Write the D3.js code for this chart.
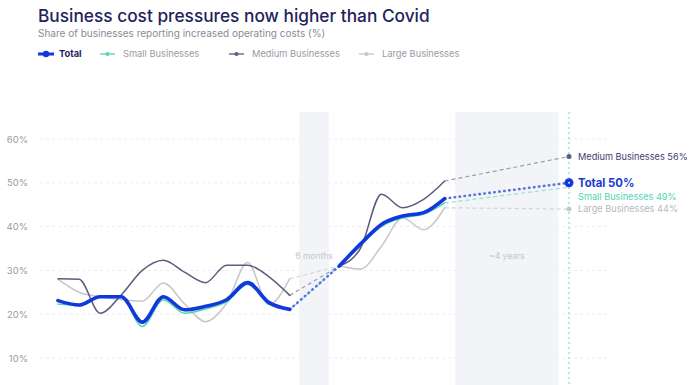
<!DOCTYPE html>
<html><head><meta charset="utf-8">
<script src="https://cdn.jsdelivr.net/npm/d3@7"></script>
<style>body{margin:0;background:#fff;font-family:Inter,"Noto Sans",sans-serif;}</style>
</head><body>
<svg id="c" width="696" height="385"></svg>
<script>
// ---- data ----
const seriesNames = ["Total","Small Businesses","Medium Businesses","Large Businesses"];
const period1 = [0,1,2,3,4,5,6,7,8,9,10,11];
const period2 = [13.35,14.35,15.35,16.35,17.35,18.35];
const projectionPeriod = 24.25;
const total1  = [23.1,22.1,24,24,18.2,24,21,21.8,23.3,27.2,22.7,21.1];
const small1  = [22.3,22,24,24,17.2,23.3,20.2,21.2,22.8,26.8,22.3,21];
const medium1 = [28.1,28,20.2,24.4,30,32.3,29.6,27.2,31.2,31.2,28.6,24.3];
const large1  = [28,25,24,23.3,23,27.1,22.4,18.3,22.5,31.8,22.2,28.1];
const total2  = [31,36,40.5,42.4,43.2,46.4];
const small2  = [31,35.7,40,42,42.8,45.4];
const medium2 = [31,35,47.4,44.3,46.2,50.4];
const large2  = [31,30.3,35.5,42,39.3,44.3];
const projected = [50,49,56,44];
const bands = [[11.45,12.85,"6 months"],[18.85,23.75,"~4 years"]];
const yTicks = [10,20,30,40,50,60];

const colors = ["#1237dc","#4fd6b2","#5c5c7c","#c6c6cc"];
const dashColors = ["#5a74dc","#8fe3cf","#9c9cb2","#d2d2d8"];
const widths = [3.6,1.5,1.5,1.5];
const seg1 = [total1,small1,medium1,large1];
const seg2 = [total2,small2,medium2,large2];

const svg = d3.select("#c");
const x = d3.scaleLinear().domain([0,24.25]).range([58,569]);
const y = d3.scaleLinear().domain([10,60]).range([358,139]);

// title
svg.append("text").attr("x",38).attr("y",22).attr("font-size",17.3).attr("font-weight",500)
  .attr("fill","#23235c").text("Business cost pressures now higher than Covid");
svg.append("text").attr("x",38).attr("y",37).attr("font-size",10)
  .attr("fill","#8a8a96").text("Share of businesses reporting increased operating costs (%)");

// legend
const legX = [38,100,229,359];
seriesNames.forEach((n,i)=>{
  const g = svg.append("g").attr("transform",`translate(${legX[i]},54)`);
  g.append("line").attr("x1",0).attr("x2",i===0?16:15).attr("y1",0).attr("y2",0)
    .attr("stroke",colors[i]).attr("stroke-width",i===0?3:1.3);
  g.append("circle").attr("cx",i===0?8:7.5).attr("cy",0).attr("r",i===0?3.2:2).attr("fill",colors[i]);
  g.append("text").attr("x",i===0?21:23).attr("y",3.3).attr("font-size",9.3)
    .attr("font-weight",i===0?700:400)
    .attr("fill",i===0?"#23235c":"#9a9aa4").text(n);
});

// bands
bands.forEach(b=>{
  svg.append("rect").attr("x",x(b[0])).attr("y",112).attr("width",x(b[1])-x(b[0]))
    .attr("height",273).attr("fill","#f2f4f8");
});

// grid + y labels
yTicks.forEach(t=>{
  svg.append("line").attr("x1",40).attr("x2",610).attr("y1",y(t)).attr("y2",y(t))
    .attr("stroke","#eceef2").attr("stroke-dasharray","3,3");
  svg.append("text").attr("x",28).attr("y",y(t)+3.5).attr("text-anchor","end")
    .attr("font-size",9.5).attr("fill","#9a9aa4").text(t+"%");
});

// band labels
bands.forEach(b=>{
  svg.append("text").attr("x",(x(b[0])+x(b[1]))/2).attr("y",259).attr("text-anchor","middle")
    .attr("font-size",8.5).attr("fill","#c4c6ce").text(b[2]);
});

// teal vertical line
svg.append("line").attr("x1",x(projectionPeriod)).attr("x2",x(projectionPeriod))
  .attr("y1",112).attr("y2",385).attr("stroke","#5fd8c2").attr("stroke-width",1)
  .attr("stroke-dasharray","2,3");

const line = d3.line().x(d=>x(d[0])).y(d=>y(d[1])).curve(d3.curveMonotoneX);
const order = [3,2,1,0];

// connectors & projections
order.forEach(i=>{
  const a = [period1[11],seg1[i][11]], b=[period2[0],seg2[i][0]];
  const c = [period2[5],seg2[i][5]], p=[projectionPeriod,projected[i]];
  [[a,b],[c,p]].forEach(pts=>{
    svg.append("path").attr("d",d3.line().x(d=>x(d[0])).y(d=>y(d[1]))(pts))
      .attr("fill","none").attr("stroke",dashColors[i])
      .attr("stroke-width",i===0?2.6:1.2)
      .attr("stroke-linecap",i===0?"round":"butt")
      .attr("stroke-dasharray",i===0?"0.5,4.5":"4,3");
  });
});

// solid lines
order.forEach(i=>{
  [[period1,seg1[i]],[period2,seg2[i]]].forEach(([px,vals])=>{
    svg.append("path").attr("d",line(px.map((p,k)=>[p,vals[k]])))
      .attr("fill","none").attr("stroke",colors[i]).attr("stroke-width",widths[i])
      .attr("stroke-linejoin","round").attr("stroke-linecap","round");
  });
});

// end dots
order.forEach(i=>{
  const cx = x(projectionPeriod), cy = y(projected[i]);
  if(i===0){
    svg.append("circle").attr("cx",cx).attr("cy",cy).attr("r",4.5).attr("fill",colors[0]);
    svg.append("circle").attr("cx",cx).attr("cy",cy).attr("r",1).attr("fill","#dfe5ff");
  } else if(i!==1){
    svg.append("circle").attr("cx",cx).attr("cy",cy).attr("r",2.5).attr("fill",colors[i]);
  }
});
const labelY = [y(projected[0])+4.3, y(projected[0])+17, y(projected[2])+3.3, y(projected[3])+3.3];
const labelColors = ["#1a3ad6","#4fd6b2","#3e3e6a","#b8b8c0"];
seriesNames.forEach((n,i)=>{
  svg.append("text").attr("x",578).attr("y",labelY[i])
    .attr("font-size",i===0?11.3:9.2).attr("font-weight",i===0?700:400)
    .attr("fill",labelColors[i]).text(n+" "+projected[i]+"%");
});
</script>
</body></html>
